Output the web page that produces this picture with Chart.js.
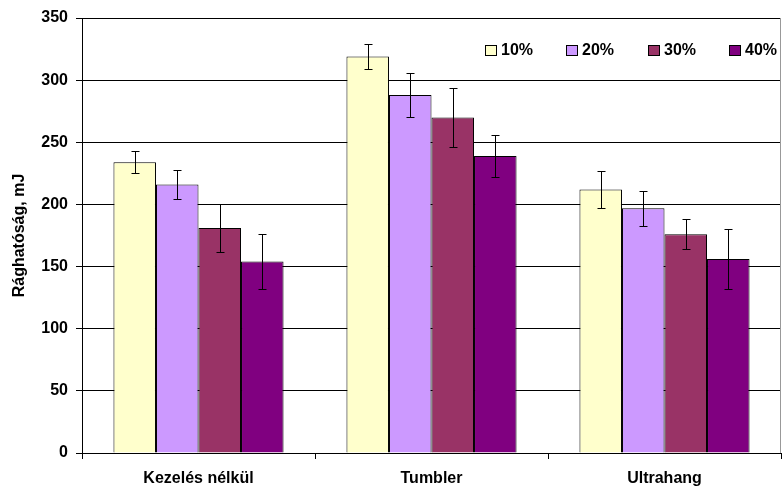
<!DOCTYPE html>
<html>
<head>
<meta charset="utf-8">
<script src="https://cdn.jsdelivr.net/npm/chart.js@4/dist/chart.umd.min.js"></script>
<style>
  html, body { margin: 0; padding: 0; background: #fff; }
  #wrap { width: 782px; height: 487px; position: relative; }
</style>
</head>
<body>
<div id="wrap"><canvas id="c" width="782" height="487"></canvas></div>
<script>
// Categories and series
const categories = ['Kezelés nélkül', 'Tumbler', 'Ultrahang'];
const seriesLabels = ['10%', '20%', '30%', '40%'];

// Mean impact energy (mJ) per treatment
const s10 = [234, 319, 212];
const s20 = [216, 288, 197];
const s30 = [181, 270, 176];
const s40 = [154, 239, 156];

// Standard deviations (error bars)
const e10 = [9, 10, 15];
const e20 = [12, 18, 14];
const e30 = [19, 24, 12];
const e40 = [22, 17, 24];

const yTicks = [0, 50, 100, 150, 200, 250, 300, 350];
const yTitle = 'Rághatóság, mJ';

const colors = ['#FFFFCC', '#CC99FF', '#993366', '#800080'];
const values = [s10, s20, s30, s40];
const errors = [e10, e20, e30, e40];

Chart.defaults.font.family = '"Liberation Sans", Arial, sans-serif';
Chart.defaults.color = '#000';

// Error bars with small caps, drawn on top of each bar
const errorBars = {
  id: 'errorBars',
  afterDatasetsDraw(chart) {
    const ctx = chart.ctx;
    const y = chart.scales.y;
    ctx.save();
    ctx.strokeStyle = '#000';
    ctx.lineWidth = 1;
    chart.data.datasets.forEach((ds, di) => {
      const meta = chart.getDatasetMeta(di);
      meta.data.forEach((bar, i) => {
        const v = ds.data[i], e = ds.errors[i];
        const x = Math.round(bar.x) + 0.5;
        const yt = Math.round(y.getPixelForValue(v + e)) + 0.5;
        const yb = Math.round(y.getPixelForValue(v - e)) + 0.5;
        ctx.beginPath();
        ctx.moveTo(x, yt); ctx.lineTo(x, yb);
        ctx.moveTo(x - 4, yt); ctx.lineTo(x + 4, yt);
        ctx.moveTo(x - 4, yb); ctx.lineTo(x + 4, yb);
        ctx.stroke();
      });
    });
    ctx.restore();
  }
};

// Single-row legend in the upper right of the plot
const topLegend = {
  id: 'topLegend',
  afterDraw(chart) {
    const ctx = chart.ctx;
    ctx.save();
    ctx.font = 'bold 16px "Liberation Sans", Arial, sans-serif';
    ctx.textBaseline = 'middle';
    ctx.textAlign = 'left';
    const x0 = 485, yc = 50, step = 81.3;
    chart.data.datasets.forEach((ds, i) => {
      const bx = Math.round(x0 + i * step);
      ctx.fillStyle = ds.backgroundColor;
      ctx.fillRect(bx + 0.5, yc - 5 + 0.5, 11, 10);
      ctx.strokeStyle = '#000';
      ctx.lineWidth = 1;
      ctx.strokeRect(bx + 0.5, yc - 5 + 0.5, 11, 10);
      ctx.fillStyle = '#000';
      ctx.fillText(ds.label, bx + 16, yc + 1);
    });
    ctx.restore();
  }
};

// Light frame line on the right side of the plot area
const rightEdge = {
  id: 'rightEdge',
  beforeDatasetsDraw(chart) {
    const a = chart.chartArea, ctx = chart.ctx;
    ctx.save();
    ctx.strokeStyle = '#999';
    ctx.lineWidth = 1;
    ctx.beginPath();
    ctx.moveTo(a.right - 0.5, a.top);
    ctx.lineTo(a.right - 0.5, a.bottom);
    ctx.stroke();
    ctx.restore();
  }
};

new Chart(document.getElementById('c'), {
  type: 'bar',
  data: {
    labels: categories,
    datasets: values.map((v, i) => ({
      label: seriesLabels[i],
      data: v,
      errors: errors[i],
      backgroundColor: colors[i],
      borderColor: '#000',
      borderWidth: 1,
      barPercentage: 1.0,
      categoryPercentage: 0.73
    }))
  },
  options: {
    responsive: false,
    animation: false,
    devicePixelRatio: 1,
    layout: { padding: { top: 18, right: 1, left: 0, bottom: 0 } },
    plugins: {
      legend: { display: false },
      tooltip: { enabled: false }
    },
    scales: {
      x: {
        offset: true,
        grid: {
          offset: true,
          drawOnChartArea: false,
          drawTicks: true,
          tickLength: 6,
          color: '#000'
        },
        border: { color: '#000', width: 1 },
        ticks: {
          font: { size: 16, weight: 'bold' },
          color: '#000',
          padding: 10,
          maxRotation: 0
        },
        afterFit(scale) { scale.height = 34; }
      },
      y: {
        min: 0,
        max: 350,
        afterBuildTicks(scale) { scale.ticks = yTicks.map(v => ({ value: v })); },
        grid: {
          color: '#000',
          drawTicks: true,
          tickLength: 6
        },
        border: { color: '#000', width: 1 },
        ticks: {
          font: { size: 16, weight: 'bold' },
          color: '#000',
          padding: 8
        },
        title: {
          display: true,
          text: yTitle,
          font: { size: 16, weight: 'bold' },
          color: '#000',
          padding: { top: 10, bottom: 0 }
        },
        afterFit(scale) { scale.width = 82; }
      }
    }
  },
  plugins: [rightEdge, errorBars, topLegend]
});
</script>
</body>
</html>
